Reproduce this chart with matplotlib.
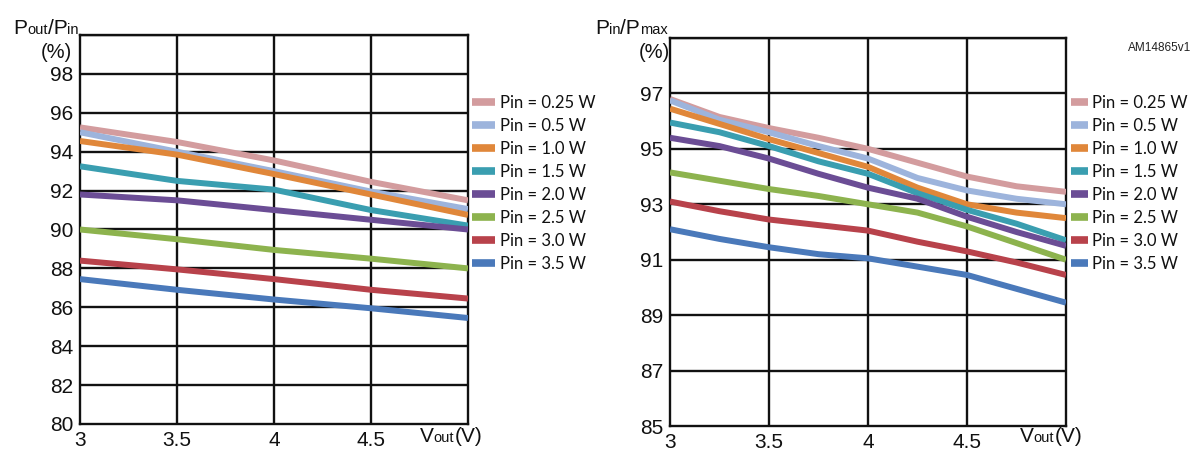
import matplotlib
matplotlib.use("Agg")
import matplotlib.pyplot as plt
from matplotlib.offsetbox import TextArea, HPacker, AnnotationBbox

# Output voltage sweep (V)
vout = [3.0, 3.5, 4.0, 4.5, 5.0]
vout_fine = [3.0, 3.25, 3.5, 3.75, 4.0, 4.25, 4.5, 4.75, 5.0]

series_labels = ["Pin = 0.25 W", "Pin = 0.5 W", "Pin = 1.0 W", "Pin = 1.5 W",
                 "Pin = 2.0 W", "Pin = 2.5 W", "Pin = 3.0 W", "Pin = 3.5 W"]
series_colors = ["#d39c9e", "#9db4dc", "#e0873a", "#3a9eb0",
                 "#6b4d95", "#8db34e", "#b8424b", "#4a79ba"]

# Efficiency Pout/Pin (%)
eff_025 = [95.25, 94.5, 93.55, 92.45, 91.5]
eff_05 = [95.0, 94.0, 93.0, 91.95, 91.05]
eff_10 = [94.55, 93.85, 92.85, 91.8, 90.75]
eff_15 = [93.25, 92.5, 92.05, 91.0, 90.2]
eff_20 = [91.8, 91.5, 91.0, 90.5, 90.0]
eff_25 = [90.0, 89.5, 88.95, 88.5, 88.0]
eff_30 = [88.4, 87.95, 87.45, 86.9, 86.45]
eff_35 = [87.45, 86.9, 86.4, 85.95, 85.45]

# Pin/Pmax (%)
ratio_025 = [96.8, 96.15, 95.75, 95.4, 95.0, 94.5, 94.0, 93.65, 93.45]
ratio_05 = [96.75, 96.05, 95.6, 95.1, 94.65, 93.95, 93.5, 93.2, 93.0]
ratio_10 = [96.45, 95.9, 95.35, 94.85, 94.35, 93.6, 93.0, 92.7, 92.5]
ratio_15 = [95.95, 95.6, 95.1, 94.55, 94.1, 93.4, 92.8, 92.3, 91.7]
ratio_20 = [95.4, 95.1, 94.65, 94.1, 93.6, 93.2, 92.55, 92.0, 91.5]
ratio_25 = [94.15, 93.85, 93.55, 93.3, 93.0, 92.7, 92.2, 91.6, 91.0]
ratio_30 = [93.1, 92.75, 92.45, 92.25, 92.05, 91.65, 91.3, 90.9, 90.45]
ratio_35 = [92.1, 91.75, 91.45, 91.2, 91.05, 90.75, 90.45, 89.95, 89.45]

left_series = [eff_025, eff_05, eff_10, eff_15, eff_20, eff_25, eff_30, eff_35]
right_series = [ratio_025, ratio_05, ratio_10, ratio_15, ratio_20, ratio_25, ratio_30, ratio_35]

left_yticks = [80, 82, 84, 86, 88, 90, 92, 94, 96, 98]
right_yticks = [85, 87, 89, 91, 93, 95, 97]
xticks = [3, 3.5, 4, 4.5]
xtick_labels = ["3", "3.5", "4", "4.5"]

W, H = 1194, 451
fig = plt.figure(figsize=(W / 100, H / 100), dpi=100)

tick_font = "Liberation Sans"
legend_font = "Lato"
ink = "#111111"


def box(x0, y0, x1, y1):
    return [x0 / W, 1 - y1 / H, (x1 - x0) / W, (y1 - y0) / H]


def style_axes(ax, ylim, yticks, grid_top):
    ax.set_xlim(3, 5)
    ax.set_ylim(*ylim)
    for sp in ax.spines.values():
        sp.set_linewidth(1.7)
        sp.set_color(ink)
    # grid lines
    for x in xticks[1:]:
        ax.axvline(x, color=ink, lw=1.7, zorder=1)
    for y in yticks[1:] + [grid_top]:
        ax.axhline(y, color=ink, lw=1.7, zorder=1)
    ax.set_xticks(xticks)
    ax.set_xticklabels(xtick_labels)
    ax.set_yticks(yticks)
    ax.tick_params(length=0, pad=5, labelsize=15)
    for lab in ax.get_xticklabels() + ax.get_yticklabels():
        lab.set_fontfamily(tick_font)
        lab.set_color(ink)


def stacked_label(parts, xy, align=(1.0, 0.0)):
    areas = [TextArea(t, textprops=dict(size=s, family=tick_font, color=ink))
             for t, s in parts]
    pack = HPacker(children=areas, align="baseline", pad=0, sep=0)
    ab = AnnotationBbox(pack, xy, xycoords="figure pixels", box_alignment=align,
                        frameon=False, pad=0)
    fig.add_artist(ab)


def add_legend(ax, anchor, handlelength):
    leg = ax.legend(loc="upper left", bbox_to_anchor=anchor, frameon=False,
                    handlelength=handlelength, handletextpad=0.25, labelspacing=0.42,
                    borderaxespad=0, borderpad=0,
                    prop=dict(family=legend_font, size=12))
    for ln in leg.get_lines():
        ln.set_linewidth(5.5)
    for t in leg.get_texts():
        t.set_color(ink)


# Left panel: efficiency
axl = fig.add_axes(box(80, 35, 468, 424))
for vals, lab, col in zip(left_series, series_labels, series_colors):
    axl.plot(vout, vals, color=col, lw=4.3, label=lab, zorder=3,
             solid_joinstyle="round", solid_capstyle="butt")
style_axes(axl, (80, 100), left_yticks, 100)
add_legend(axl, ((472 - 80) / 388, (424 - 95) / 389), 1.4)

stacked_label([("P", 15), ("out", 10.5), ("/P", 15), ("in", 10.5)], (79, H - 38))
fig.text(56 / W, 1 - 53 / H, "(%)", ha="center", va="center", size=14.5, family=tick_font,
         color=ink)
stacked_label([("V", 15), ("out", 10.5), ("(V)", 15)], (420, H - 446), align=(0.0, 0.0))

# Right panel: input power ratio
axr = fig.add_axes(box(670, 38, 1066, 426))
for vals, lab, col in zip(right_series, series_labels, series_colors):
    axr.plot(vout_fine, vals, color=col, lw=4.3, label=lab, zorder=3,
             solid_joinstyle="round", solid_capstyle="butt")
style_axes(axr, (85, 99), right_yticks, 99)
add_legend(axr, ((1071 - 670) / 396, (426 - 95) / 388), 1.0)

stacked_label([("P", 15), ("in", 10.5), ("/P", 15), ("max", 10.5)], (668, H - 38))
fig.text(654 / W, 1 - 53 / H, "(%)", ha="center", va="center", size=14.5, family=tick_font,
         color=ink)
stacked_label([("V", 15), ("out", 10.5), ("(V)", 15)], (1020, H - 446), align=(0.0, 0.0))

fig.text(1191 / W, 1 - 48 / H, "AM14865v1", ha="right", va="center", size=8.5,
         family=tick_font, color="#222222")

fig.savefig("out.png", dpi=100, facecolor="white")
